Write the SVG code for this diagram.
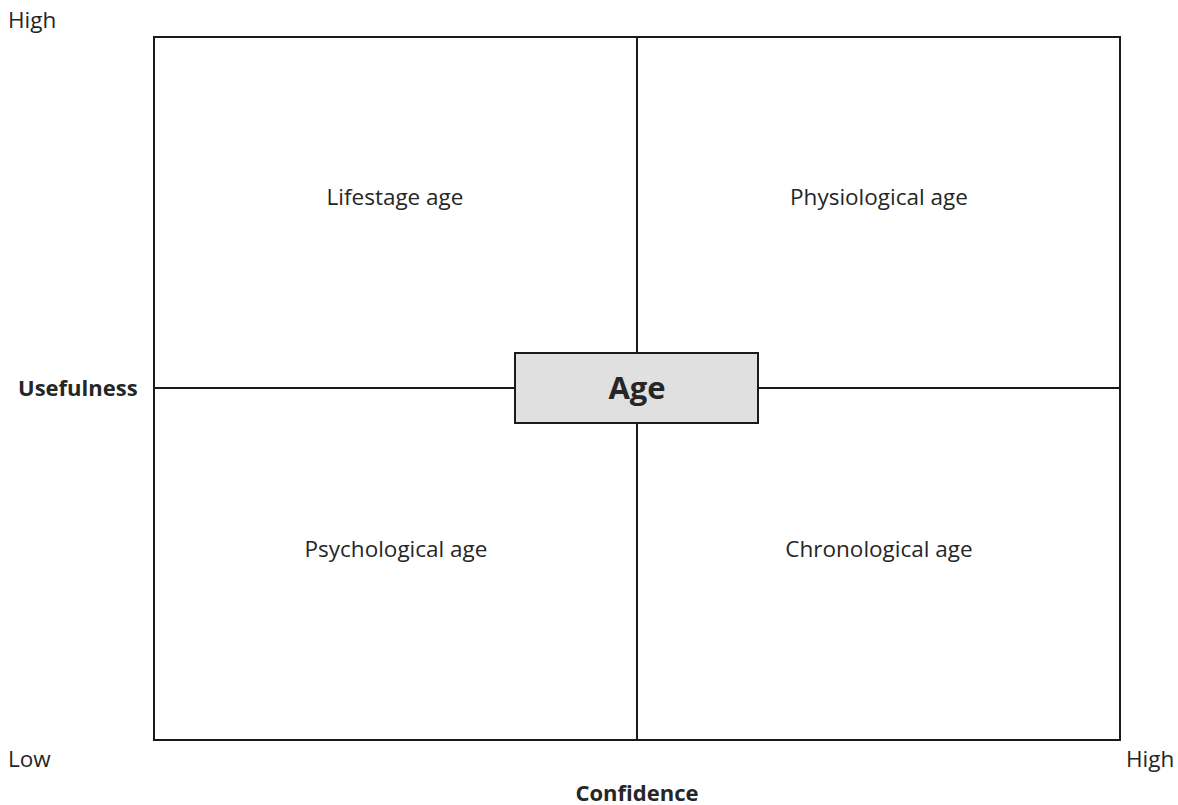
<svg xmlns="http://www.w3.org/2000/svg" width="1178" height="805" viewBox="0 0 1178 805">
<style>
text{font-family:"Open Sans","Liberation Sans",sans-serif;fill:#262626;font-size:22.5px}
.b{font-weight:bold;font-size:22px}
.c{text-anchor:middle}
.ln{stroke:#1a1a1a;stroke-width:2;fill:none}
</style>
<rect width="1178" height="805" fill="#fff"/>
<g id="connectors">
<rect class="ln" x="154" y="37" width="966" height="703"/>
<line class="ln" x1="637" y1="37" x2="637" y2="740"/>
<line class="ln" x1="154" y1="388" x2="1120" y2="388"/>
</g>
<g id="age">
<rect x="515" y="353" width="243" height="70" fill="#e0e0e0" stroke="#1a1a1a" stroke-width="2"/>
<text class="b c" x="637" y="399" style="font-size:31px">Age</text>
</g>
<g id="lifestage"><text class="c" x="395" y="205">Lifestage age</text></g>
<g id="physiological"><text class="c" x="879" y="205">Physiological age</text></g>
<g id="psychological"><text class="c" x="396" y="557">Psychological age</text></g>
<g id="chronological"><text class="c" x="879" y="557">Chronological age</text></g>
<g id="axes">
<text x="8" y="28">High</text>
<text class="b" x="18" y="396">Usefulness</text>
<text x="8" y="767">Low</text>
<text x="1126" y="767">High</text>
<text class="b c" x="637" y="801">Confidence</text>
</g>
</svg>
